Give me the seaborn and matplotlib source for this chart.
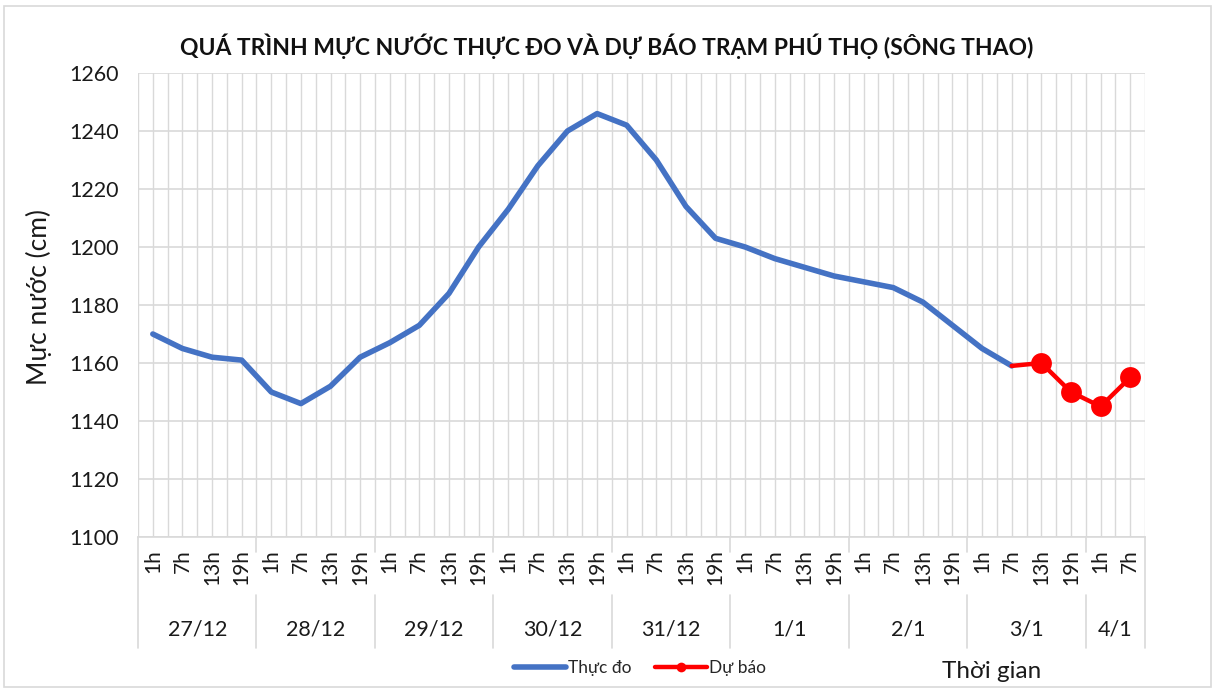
import numpy as np
import pandas as pd
import matplotlib
matplotlib.use("Agg")
import matplotlib.pyplot as plt
import matplotlib.transforms as mtrans
from matplotlib.patches import Rectangle
import seaborn as sns

# ---------------- data ----------------
days = ['27/12', '28/12', '29/12', '30/12', '31/12', '1/1', '2/1', '3/1', '4/1']
hours_per_day = [4, 4, 4, 4, 4, 4, 4, 4, 2]
hour_names = ['1h', '7h', '13h', '19h']
observed = [1170, 1165, 1162, 1161,
            1150, 1146, 1152, 1162,
            1167, 1173, 1184, 1200,
            1213, 1228, 1240, 1246,
            1242, 1230, 1214, 1203,
            1200, 1196, 1193, 1190,
            1188, 1186, 1181, 1173,
            1165, 1159]
forecast = [1159, 1160, 1150, 1145, 1155]
forecast_start = 29
yticks = [1100, 1120, 1140, 1160, 1180, 1200, 1220, 1240, 1260]

title = 'QUÁ TRÌNH MỰC NƯỚC THỰC ĐO VÀ DỰ BÁO TRẠM PHÚ THỌ (SÔNG THAO)'
ylabel = 'Mực nước (cm)'
xlabel = 'Thời gian'
obs_name = 'Thực đo'
fc_name = 'Dự báo'

# ---------------- build tables ----------------
hour_labels = []
for n in hours_per_day:
    hour_labels += hour_names[:n]
n_cat = len(hour_labels)
df_obs = pd.DataFrame({'x': np.arange(len(observed)), 'y': observed})
df_fc = pd.DataFrame({'x': np.arange(forecast_start, forecast_start + len(forecast)), 'y': forecast})

sns.set_theme(style='white')
plt.rcParams['font.family'] = ['Lato', 'Noto Sans', 'DejaVu Sans']

fig = plt.figure(figsize=(12.15, 6.91), dpi=100)
ax = fig.add_axes([138 / 1215, 1 - 537 / 691, (1145 - 138) / 1215, (537 - 73) / 691])

grid_c = '#d9d9d9'
blue = '#4472C4'
red = '#FF0000'
txt_c = '#1a1a1a'

sns.lineplot(data=df_obs, x='x', y='y', ax=ax, color=blue, linewidth=4.0,
             label=obs_name, solid_capstyle='round', solid_joinstyle='round')
sns.lineplot(data=df_fc, x='x', y='y', ax=ax, color=red, linewidth=3.2,
             marker='o', markersize=15, markeredgewidth=0, markevery=list(range(1, len(forecast))),
             label=fc_name, solid_joinstyle='round')

ax.set_xlim(-0.5, n_cat - 0.5)
ax.set_ylim(yticks[0], yticks[-1])
ax.set_yticks(yticks)
ax.set_yticklabels([str(v) for v in yticks], fontsize=15.5, color=txt_c)
ax.set_xticks(np.arange(n_cat))
ax.set_xticklabels(hour_labels, rotation=90, fontsize=15, color=txt_c)
ax.set_xticks(np.arange(-0.5, n_cat, 0.5), minor=True)
ax.tick_params(axis='both', which='both', length=0)
ax.tick_params(axis='y', pad=14)
ax.tick_params(axis='x', pad=9)
ax.grid(True, axis='y', color=grid_c, linewidth=1.2)
ax.grid(True, axis='x', which='both', color=grid_c, linewidth=1.0)
ax.set_axisbelow(True)
for s in ['left', 'right', 'top']:
    ax.spines[s].set_visible(False)
ax.spines['bottom'].set_color(grid_c)
ax.spines['bottom'].set_linewidth(1.2)
ax.set_xlabel('')
ax.set_ylabel(ylabel, fontsize=19, color=txt_c)
ax.yaxis.set_label_coords((52 - 138) / 1007, 0.5 + 8 / 464)

# day group separators and labels
trans = mtrans.blended_transform_factory(ax.transData, ax.transAxes)
px = 1 / (537 - 73)
bounds = np.concatenate([[0], np.cumsum(hours_per_day)]) - 0.5
for i, b in enumerate(bounds):
    if i == 0 or i == len(bounds) - 1:
        ax.plot([b, b], [0, -(648 - 537) * px], transform=trans, color=grid_c, lw=1.2, clip_on=False)
    else:
        ax.plot([b, b], [0, -(552 - 537) * px], transform=trans, color=grid_c, lw=1.2, clip_on=False)
        ax.plot([b, b], [-(595 - 537) * px, -(648 - 537) * px], transform=trans, color=grid_c, lw=1.2, clip_on=False)
for d, a, b in zip(days, bounds[:-1], bounds[1:]):
    ax.text((a + b) / 2, -(630 - 537) * px, d, transform=trans, ha='center', va='center',
            fontsize=15.5, color=txt_c)

# legend
leg = ax.legend(loc='center', bbox_to_anchor=(640 / 1215, 1 - 668 / 691), bbox_transform=fig.transFigure,
                ncol=2, frameon=False, fontsize=12.5, handlelength=3.0, columnspacing=1.3, handletextpad=0.15)
for h in leg.get_lines():
    h.set_markersize(7)

fig.text(992 / 1215, 1 - 672 / 691, xlabel, ha='center', va='center', fontsize=17.5, color=txt_c)
fig.text(607 / 1215, 1 - 46 / 691, title, ha='center', va='center', fontsize=16.5, fontweight='bold',
         color='#111111')

fig.patches.append(Rectangle((4 / 1215, 4 / 691), 1 - 8 / 1215, 1 - 10 / 691, transform=fig.transFigure,
                             fill=False, edgecolor=grid_c, linewidth=1.2))

fig.savefig('out.png', dpi=100, facecolor='white')
